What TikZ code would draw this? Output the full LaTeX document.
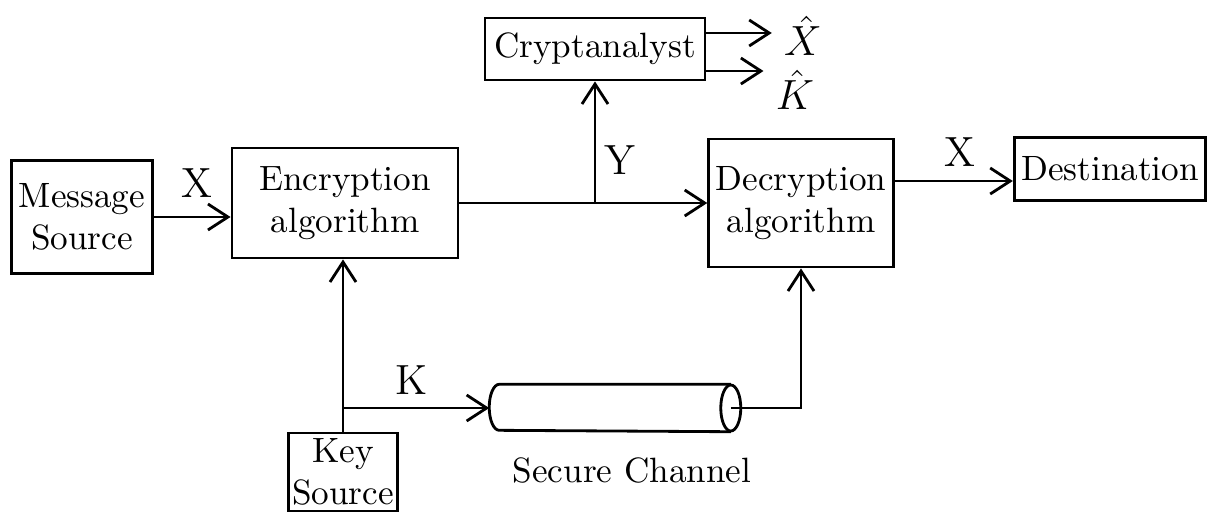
\documentclass[tikz,border=0pt]{standalone}
\usepackage{amsmath,amssymb}
\usepackage{tikz}
\usetikzlibrary{arrows.meta}
\tikzset{
  blk/.style={rectangle, draw, thick, align=center, inner sep=2pt, font=\normalsize},
  pipe/.style={rectangle, minimum width=2.3cm, minimum height=0.46cm, inner sep=0pt},
  arr/.style={thick, -{Straight Barb[length=2mm,width=2.6mm]}},
  sym/.style={font=\large},
  chlab/.style={font=\normalsize},
}

\begin{document}
\begin{tikzpicture}[x=0.01cm,y=-0.01cm]
  \useasboundingbox (0,0) rectangle (1209,512);
  \node[blk, minimum width=1.37cm, minimum height=1.13cm] (src) at (82,217) {Message\\ Source};
  \node[blk, minimum width=2.26cm, minimum height=1.10cm] (enc) at (345,203) {Encryption\\ algorithm};
  \node[blk, minimum width=2.20cm, minimum height=0.62cm] (ana) at (595,49) {Cryptanalyst};
  \node[blk, minimum width=1.83cm, minimum height=1.28cm] (dec) at (801,203) {Decryption\\ algorithm};
  \node[blk, minimum width=1.90cm, minimum height=0.63cm] (dst) at (1110,169) {Destination};
  \node[blk, minimum width=1.08cm, minimum height=0.78cm, inner sep=1pt] (key) at (343,472) {Key\\ Source};
  \node[pipe] (chan) at (615,408) {};
  \node[chlab] (chanlab) at (632,470) {Secure Channel};
  \node[sym] (xh) at (803,36) {$\hat{X}$};
  \node[sym] (kh) at (795,90) {$\hat{K}$};
  \node[sym] at (197,183) {X};
  \node[sym] at (620,160) {Y};
  \node[sym] at (960,152) {X};
  \node[sym] at (412,380) {K};
  % the channel drawn as a cylinder
  \draw[thick] (chan.north east) -- (chan.north west)
    arc[start angle=90, end angle=270, x radius=1mm, y radius=2.3mm] -- (chan.south east);
  \draw[thick] (chan.east) ellipse[x radius=1mm, y radius=2.3mm];
  \coordinate (tap) at (enc.east -| ana.south);
  \coordinate (kb) at (key.north |- chan.west);
  \draw[arr] (src.east) -- (src.east -| enc.west);
  \draw[arr] (enc.east) -- (enc.east -| dec.west);
  \draw[arr] (tap) -- (ana.south);
  \draw[arr] ([yshift=1.6mm]ana.east) -- ([yshift=1.6mm]ana.east -| xh.west);
  \draw[arr] ([yshift=-2.2mm]ana.east) -- ([yshift=-2.2mm]ana.east -| kh.west);
  \draw[arr] ([yshift=-1.2mm]dst.west -| dec.east) -- ([yshift=-1.2mm]dst.west);
  \draw[arr] (key.north) -- (key.north |- enc.south);
  \draw[arr] (kb) -- ([xshift=-1mm]chan.west);
  \draw[arr] (chan.east) -| (dec.south);
\end{tikzpicture}
\end{document}
